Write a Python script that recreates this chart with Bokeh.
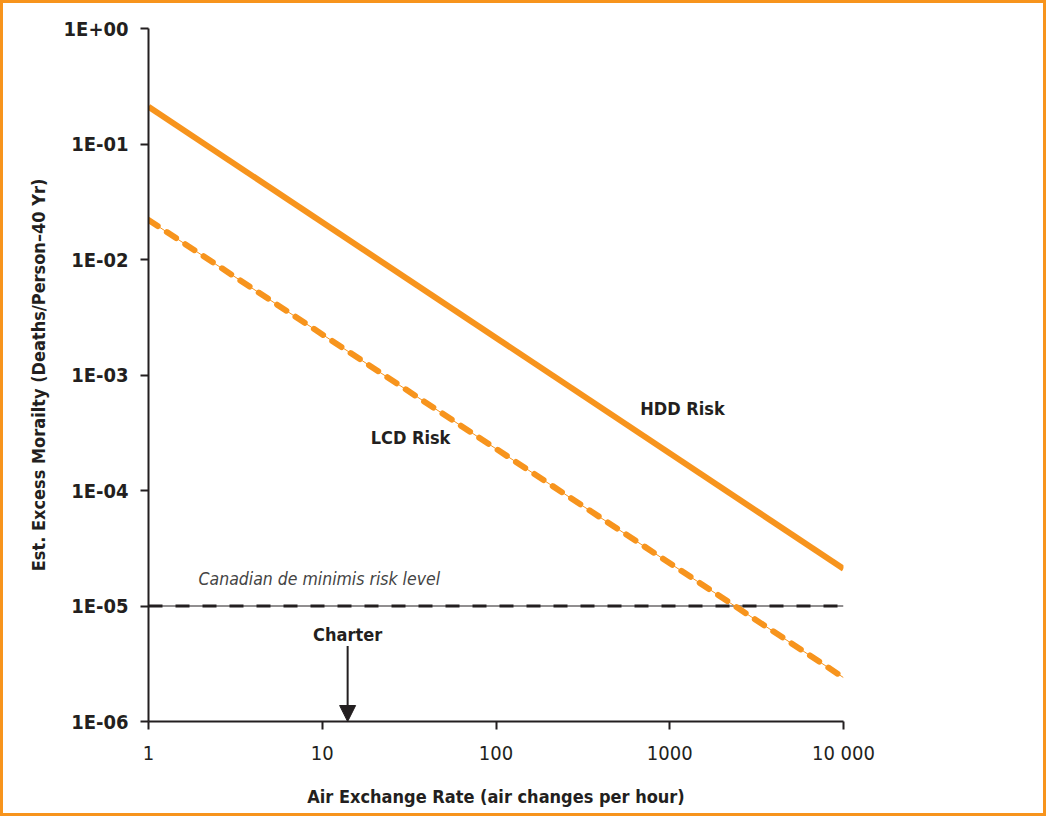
from bokeh.plotting import figure
from bokeh.models import Range1d, FixedTicker, CustomJSTickFormatter, Arrow, NormalHead, Label
from bokeh.core.properties import value
from bokeh.embed import file_html
from bokeh.resources import INLINE

# ---- data ----
ach = [1, 10000]
hdd_risk = [0.21, 2.1e-5]
lcd_risk = [0.022, 2.4e-6]
deminimis_level = 1e-5
charter_ach = 14
charter_arrow_y = [4.5e-6, 1.0e-6]
x_ticks = [1, 10, 100, 1000, 10000]
x_tick_labels = ["1", "10", "100", "1000", "10 000"]
y_ticks = [1, 1e-1, 1e-2, 1e-3, 1e-4, 1e-5, 1e-6]
y_tick_labels = ["1E+00", "1E-01", "1E-02", "1E-03", "1E-04", "1E-05", "1E-06"]

ORANGE = "#F7941D"
INK = "#231F20"
FONT = "DejaVu Sans Condensed"

p = figure(width=1046, height=816, x_axis_type="log", y_axis_type="log",
           x_range=Range1d(1, 10000), y_range=Range1d(1e-6, 1),
           output_backend="svg", toolbar_location=None,
           min_border_left=145, min_border_right=206, min_border_top=25, min_border_bottom=98)
p.styles = {"border": "3px solid " + ORANGE}
p.outline_line_color = None
p.grid.visible = False
p.background_fill_color = "white"
p.border_fill_color = "white"

fmt_code = """
let best = -1, bd = 1e9;
for (let i = 0; i < vals.length; i++) {
  const d = Math.abs(Math.log10(vals[i]) - Math.log10(tick));
  if (d < bd) { bd = d; best = i; }
}
return bd < 1e-6 ? labs[best] : '';
"""
p.xaxis.ticker = FixedTicker(ticks=x_ticks, minor_ticks=[])
p.xaxis.formatter = CustomJSTickFormatter(args=dict(vals=x_ticks, labs=x_tick_labels), code=fmt_code)
p.yaxis.ticker = FixedTicker(ticks=y_ticks, minor_ticks=[])
p.yaxis.formatter = CustomJSTickFormatter(args=dict(vals=y_ticks, labs=y_tick_labels), code=fmt_code)

for ax in (p.xaxis, p.yaxis):
    ax.axis_line_color = INK
    ax.axis_line_width = 2
    ax.major_tick_line_color = INK
    ax.major_tick_line_width = 2
    ax.major_tick_out = 8
    ax.major_tick_in = 0
    ax.minor_tick_line_color = None
    ax.major_label_text_font = FONT
    ax.major_label_text_color = INK
    ax.axis_label_text_font = FONT
    ax.axis_label_text_color = INK
    ax.axis_label_text_font_style = "bold"
    ax.axis_label_text_font_size = "18px"

p.xaxis.major_label_text_font_size = "20px"
p.xaxis.major_label_standoff = 11
p.xaxis.axis_label = "Air Exchange Rate (air changes per hour)"
p.xaxis.axis_label_standoff = 18
p.yaxis.major_label_text_font_size = "20px"
p.yaxis.major_label_text_font_style = "bold"
p.yaxis.major_label_standoff = 12
p.yaxis.axis_label = "Est. Excess Morailty (Deaths/Person\u201340 Yr)"
p.yaxis.axis_label_text_font_size = "18px"
p.yaxis.axis_label_standoff = 12

# de minimis level
p.line([ach[0], ach[1]], [deminimis_level, deminimis_level], line_color=INK, line_width=1)
p.line([ach[0], ach[1]], [deminimis_level, deminimis_level], line_color=INK, line_width=3,
       line_dash="14 13")

# LCD risk (dashed orange over thin line)
p.line(ach, lcd_risk, line_color=ORANGE, line_width=1)
p.line(ach, lcd_risk, line_color=ORANGE, line_width=6, line_dash="11 11", line_cap="round")

# HDD risk
p.line(ach, hdd_risk, line_color=ORANGE, line_width=6)

# Charter arrow
p.add_layout(Arrow(end=NormalHead(size=16, fill_color=INK, line_color=INK),
                   x_start=charter_ach, y_start=charter_arrow_y[0],
                   x_end=charter_ach, y_end=charter_arrow_y[1],
                   line_color=INK, line_width=2))

lbl = dict(text_font=FONT, text_color=INK, text_font_style="bold", text_font_size="18px",
           text_baseline="middle")
p.add_layout(Label(x=676, y=5.1e-4, text="HDD Risk", **lbl))
p.add_layout(Label(x=19, y=2.9e-4, text="LCD Risk", **lbl))
p.add_layout(Label(x=charter_ach, y=5.7e-6, text="Charter", text_align="center", **lbl))
p.add_layout(Label(x=1.94, y=1.7e-5, text="Canadian de minimis risk level", text_font=FONT,
                   text_color="#444444", text_font_style="italic", text_font_size="17.5px",
                   text_baseline="middle"))

open("out.html", "w").write(file_html(p, INLINE))
